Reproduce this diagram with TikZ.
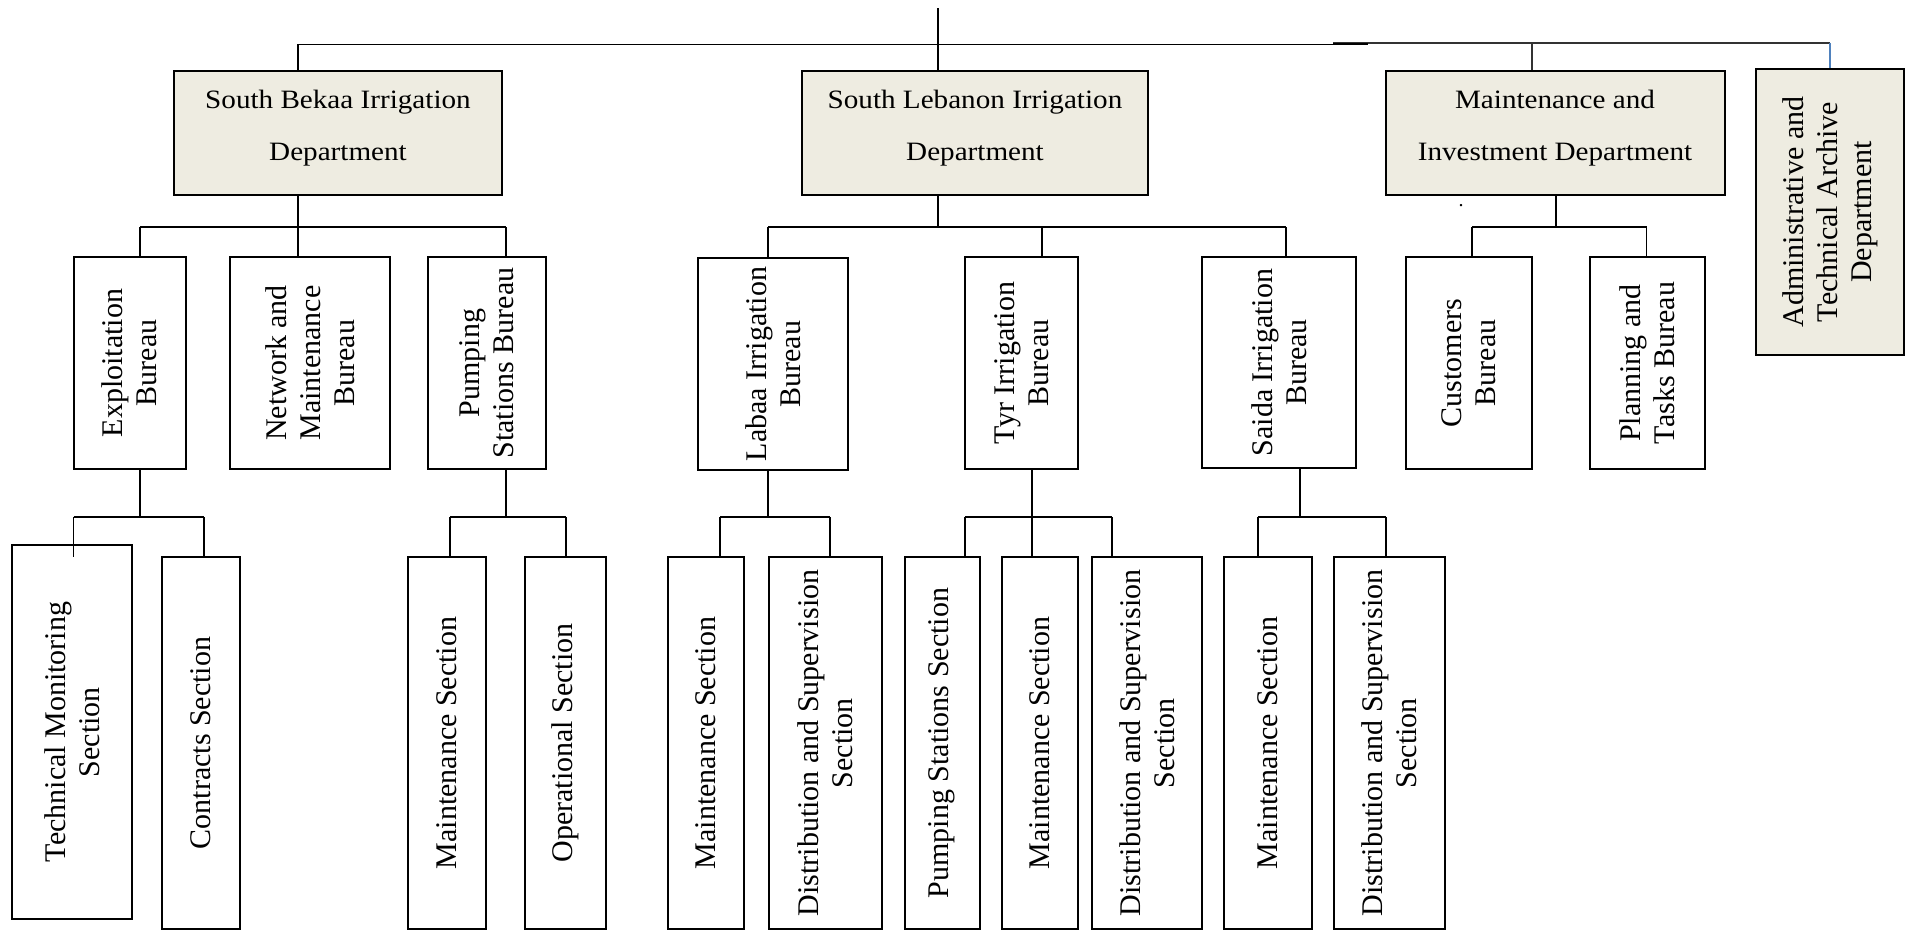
\documentclass[tikz,border=0pt]{standalone}
\usepackage{fontspec}
\setmainfont{Liberation Serif}
\newfontfamily\hfont[FakeStretch=1.1]{Liberation Serif}
\definecolor{beige}{HTML}{EEECE1}
\definecolor{linkblue}{HTML}{4F81BD}
\tikzset{
  hbox/.style={draw=black, line width=2pt, fill=beige, inner sep=0pt},
  wbox/.style={draw=black, line width=2pt, fill=white, inner sep=0pt},
  htext/.style={align=center, font=\hfont\fontsize{26.5}{51.7}\selectfont, inner sep=0pt},
  rtext/.style={align=center, rotate=90, font=\fontsize{30}{34}\selectfont, inner sep=0pt},
  conn/.style={line width=1.8pt, draw=black},
  thinconn/.style={line width=1.3pt, draw=black!80},
  blueconn/.style={line width=1.3pt, draw=linkblue},
}
\newcommand{\mybox}[6]{\node[#2, minimum width={(#5)-(#3)}, minimum height={(#6)-(#4)}] (#1) at ({((#3)+(#5))/2},{((#4)+(#6))/2}) {};}
\begin{document}
\begin{tikzpicture}[x=1pt,y=-1pt]
\useasboundingbox[fill=white] (0,0) rectangle (1913,931);
% level 1
\mybox{sb}{hbox}{174}{71}{502}{195}
\mybox{sl}{hbox}{802}{71}{1148}{195}
\mybox{mi}{hbox}{1386}{71}{1724.5}{195}
\mybox{adm}{hbox}{1756}{69}{1904}{355}
% level 2
\mybox{expl}{wbox}{73.5}{257}{185.5}{469}
\mybox{net}{wbox}{230}{257}{390}{469}
\mybox{pump}{wbox}{428}{257}{545.5}{469}
\mybox{lab}{wbox}{698}{258}{847.5}{470}
\mybox{tyr}{wbox}{965}{257}{1078}{469}
\mybox{sai}{wbox}{1202}{257}{1356}{468}
\mybox{cust}{wbox}{1406}{257}{1532}{469}
\mybox{plan}{wbox}{1590}{257}{1705}{469}
% level 3
\mybox{tm}{wbox}{12}{545}{132}{919}
\mybox{con}{wbox}{162}{557}{240}{929}
\mybox{msb}{wbox}{408}{557}{485.6}{929}
\mybox{ops}{wbox}{525}{557}{606}{929}
\mybox{mlab}{wbox}{668}{557}{744}{929}
\mybox{dlab}{wbox}{768.5}{557}{882}{929}
\mybox{psec}{wbox}{905}{557}{979.5}{929}
\mybox{mtyr}{wbox}{1002}{557}{1078}{929}
\mybox{dtyr}{wbox}{1092}{557}{1202}{929}
\mybox{msai}{wbox}{1224}{557}{1312}{929}
\mybox{dsai}{wbox}{1334}{557}{1444.5}{929}

% top connectors
\coordinate (top) at (938,8.3);
\coordinate (barL) at (298,44.5);
\coordinate (barR) at (1368,44.5);
\coordinate (thinL) at (1333,43);
\coordinate (thinR) at (1830,43);
\coordinate (miT) at (1532,43);
\draw[conn] (top) -- (sl.north -| top);
\draw[conn] (barL) -- (barR);
\draw[conn] (barL) -- (sb.north -| barL);
\draw[thinconn] (thinL) -- (thinR);
\draw[conn] (1333,44) -- (1368,44);
\draw[thinconn] (miT) -- (mi.north -| miT);
\draw[blueconn] (thinR) -- (adm.north -| thinR);

% level 2 connectors
\coordinate (sbJ) at (298,227); \coordinate (sbL) at (140,227); \coordinate (sbR) at (506,227);
\draw[conn] (sb.south -| sbJ) -- (sbJ);
\draw[conn] (sbL) -- (sbR);
\draw[conn] (sbL) -- (expl.north -| sbL);
\draw[conn] (sbJ) -- (net.north -| sbJ);
\draw[conn] (sbR) -- (pump.north -| sbR);

\coordinate (slJ) at (938,227); \coordinate (slL) at (768,227); \coordinate (slR) at (1286,227); \coordinate (slM) at (1042,227);
\draw[conn] (sl.south -| slJ) -- (slJ);
\draw[conn] (slL) -- (slR);
\draw[conn] (slL) -- (lab.north -| slL);
\draw[conn] (slM) -- (tyr.north -| slM);
\draw[conn] (slR) -- (sai.north -| slR);

\coordinate (miJ) at (1556,227); \coordinate (miL) at (1472,227); \coordinate (miR) at (1646.5,227);
\draw[conn] (mi.south -| miJ) -- (miJ);
\draw[conn] (miL) -- (miR);
\draw[conn] (miL) -- (cust.north -| miL);
\draw[conn] (miR) -- (plan.north -| miR);

% level 3 connectors
\coordinate (exJ) at (140,517); \coordinate (exL) at (73.5,517); \coordinate (exR) at (204,517);
\coordinate (tmEnd) at (73.5,557);
\draw[conn] (expl.south -| exJ) -- (exJ);
\draw[conn] (exL) -- (exR);
\draw[conn] (exL) -- (tmEnd);
\draw[conn] (exR) -- (con.north -| exR);

\coordinate (pJ) at (506,517); \coordinate (pL) at (450,517); \coordinate (pR) at (566,517);
\draw[conn] (pump.south -| pJ) -- (pJ);
\draw[conn] (pL) -- (pR);
\draw[conn] (pL) -- (msb.north -| pL);
\draw[conn] (pR) -- (ops.north -| pR);

\coordinate (lJ) at (768,517); \coordinate (lL) at (720,517); \coordinate (lR) at (830,517);
\draw[conn] (lab.south -| lJ) -- (lJ);
\draw[conn] (lL) -- (lR);
\draw[conn] (lL) -- (mlab.north -| lL);
\draw[conn] (lR) -- (dlab.north -| lR);

\coordinate (tJ) at (1032,517); \coordinate (tL) at (965,517); \coordinate (tR) at (1112,517);
\draw[conn] (tyr.south -| tJ) -- (mtyr.north -| tJ);
\draw[conn] (tL) -- (tR);
\draw[conn] (tL) -- (psec.north -| tL);
\draw[conn] (tR) -- (dtyr.north -| tR);

\coordinate (sJ) at (1300,517); \coordinate (sL) at (1258,517); \coordinate (sR) at (1386,517);
\draw[conn] (sai.south -| sJ) -- (sJ);
\draw[conn] (sL) -- (sR);
\draw[conn] (sL) -- (msai.north -| sL);
\draw[conn] (sR) -- (dsai.north -| sR);

% texts
\node[htext] (sbt) at (338,128) {South Bekaa Irrigation\\Department};
\node[htext] (slt) at (975,128) {South Lebanon Irrigation\\Department};
\node[htext] (mit) at (1555,128) {Maintenance and\\Investment Department};
\node[rtext] (admt) at (1830,212) {Administrative and\\Technical Archive\\Department};
\node[font=\fontsize{20}{20}\selectfont, inner sep=0pt] (dot) at (1461,206) {.};

\node[rtext] (explt) at (expl.center) {Exploitation\\Bureau};
\node[rtext] (nett) at (net.center) {Network and\\Maintenance\\Bureau};
\node[rtext] (pumpt) at (pump.center) {Pumping\\Stations Bureau};
\node[rtext] (labt) at (lab.center) {Labaa Irrigation\\Bureau};
\node[rtext] (tyrt) at (tyr.center) {Tyr Irrigation\\Bureau};
\node[rtext] (sait) at (sai.center) {Saida Irrigation\\Bureau};
\node[rtext] (custt) at (cust.center) {Customers\\Bureau};
\node[rtext] (plant) at (plan.center) {Planning and\\Tasks Bureau};

\node[rtext] (tmt) at (tm.center) {Technical Monitoring\\Section};
\node[rtext] (cont) at (con.center) {Contracts Section};
\node[rtext] (msbt) at (msb.center) {Maintenance Section};
\node[rtext] (opst) at (ops.center) {Operational Section};
\node[rtext] (mlabt) at (mlab.center) {Maintenance Section};
\node[rtext] (dlabt) at (dlab.center) {Distribution and Supervision\\Section};
\node[rtext] (psect) at (psec.center) {Pumping Stations Section};
\node[rtext] (mtyrt) at (mtyr.center) {Maintenance Section};
\node[rtext] (dtyrt) at (dtyr.center) {Distribution and Supervision\\Section};
\node[rtext] (msait) at (msai.center) {Maintenance Section};
\node[rtext] (dsait) at (dsai.center) {Distribution and Supervision\\Section};
\end{tikzpicture}
\end{document}
